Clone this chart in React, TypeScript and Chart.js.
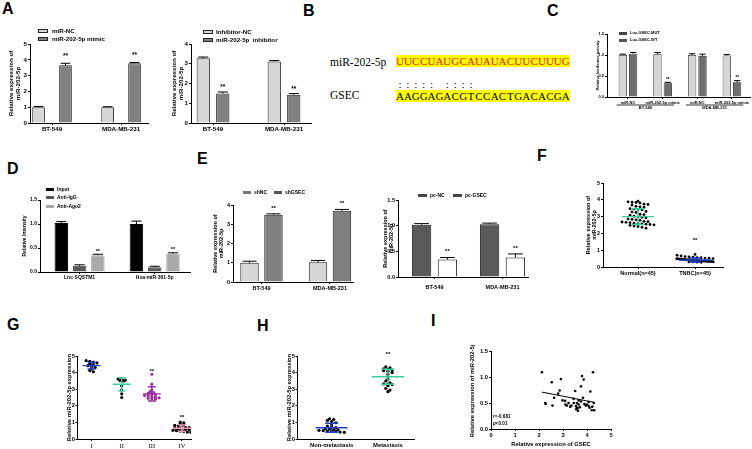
import React, { useEffect, useRef } from 'react';
import { Chart, registerables } from 'chart.js';

Chart.register(...registerables);

// ------------------------- DATA -------------------------
// Panel A
const aCellLines = ['BT-549', 'MDA-MB-231'];
const aMimicNC = [1.0, 1.0];
const aMimicNCErr = [0.05, 0.03];
const aMimic = [3.65, 3.78];
const aMimicErr = [0.13, 0.05];
const aInhibitorNC = [3.28, 3.12];
const aInhibitorNCErr = [0.06, 0.04];
const aInhibitor = [1.5, 1.43];
const aInhibitorErr = [0.07, 0.06];

// Panel B
const bMirLabel = 'miR-202-5p';
const bMirSeq = 'UUCCUAUGCAUAUACUUCUUUG';
const bGeneLabel = 'GSEC';
const bGeneSeq = 'AAGGAGACGTCCACTGACACGA';
const bPaired = [0, 1, 2, 3, 4, 6, 7, 8, 9];

// Panel C
const cGroups = ['miR-NC', 'miR-202-5p mimic', 'miR-NC', 'miR-202-5p mimic'];
const cCellLines = ['BT-549', 'MDA-MB-231'];
const cMut = [1.0, 1.02, 1.0, 0.99];
const cMutErr = [0.02, 0.04, 0.03, 0.02];
const cWt = [1.03, 0.33, 0.98, 0.35];
const cWtErr = [0.03, 0.02, 0.04, 0.04];

// Panel D
const dTargets = ['Lnc-SQSTM1', 'Hsa-miR-361-5p'];
const dInput = [1.02, 1.0];
const dInputErr = [0.03, 0.06];
const dIgG = [0.13, 0.1];
const dIgGErr = [0.02, 0.02];
const dAgo2 = [0.35, 0.38];
const dAgo2Err = [0.02, 0.02];

// Panel E
const eCellLines = ['BT-549', 'MDA-MB-231'];
const eShNC = [1.0, 1.02];
const eShNCErr = [0.08, 0.1];
const eShGSEC = [3.5, 3.7];
const eShGSECErr = [0.04, 0.07];
const ePcNC = [1.02, 1.03];
const ePcNCErr = [0.02, 0.02];
const ePcGSEC = [0.34, 0.38];
const ePcGSECErr = [0.04, 0.07];

// Panel F
const fGroups = ['Normal(n=45)', 'TNBC(n=45)'];
const fNormal = [3.92, 3.88, 3.86, 3.84, 3.81, 3.74, 3.72, 3.69, 3.61, 3.58, 3.55, 3.47, 3.45, 3.42, 3.4,
  3.31, 3.28, 3.25, 3.14, 3.12, 3.08, 3.02, 2.98, 2.96, 2.93, 2.86, 2.84, 2.81, 2.78, 2.72, 2.7, 2.68, 2.66,
  2.64, 2.61, 2.59, 2.57, 2.55, 2.53, 2.51, 2.48, 2.44, 2.41, 2.36, 2.31];
const fTNBC = [0.75, 0.7, 0.66, 0.62, 0.6, 0.58, 0.56, 0.55, 0.53, 0.52, 0.5, 0.49, 0.48, 0.47, 0.46, 0.46,
  0.45, 0.44, 0.44, 0.43, 0.42, 0.42, 0.41, 0.4, 0.4, 0.39, 0.39, 0.38, 0.38, 0.37, 0.37, 0.36, 0.36, 0.35,
  0.35, 0.34, 0.34, 0.33, 0.33, 0.32, 0.31, 0.3, 0.3, 0.29, 0.28];
const fMean = [3.0, 0.42];
const fSD = [0.47, 0.12];
const fStars = [null, 1.65];

// Panel G
const gStages = ['I', 'II', 'III', 'IV'];
const gStageI = [4.72, 4.68, 4.63, 4.58, 4.52, 4.47, 4.42, 4.36, 4.3, 4.22, 4.12, 4.05];
const gStageII = [3.62, 3.58, 3.55, 3.52, 3.5, 3.2, 2.95, 2.72, 2.5];
const gStageIII = [3.9, 3.3, 2.95, 2.85, 2.8, 2.75, 2.7, 2.68, 2.62, 2.6, 2.55, 2.52, 2.48, 2.45, 2.42, 2.4];
const gStageIV = [1.02, 0.98, 0.92, 0.88, 0.82, 0.78, 0.74, 0.7, 0.68, 0.65, 0.62, 0.6, 0.58, 0.55, 0.52,
  0.5, 0.48, 0.45, 0.42, 0.4];
const gMean = [4.42, 3.3, 2.72, 0.65];
const gSD = [0.2, 0.4, 0.43, 0.2];
const gStars = [null, null, 4.16, 1.39];

// Panel H
const hGroups = ['Non-metastasis', 'Metastasis'];
const hNonMet = [1.22, 1.18, 1.12, 1.05, 0.98, 0.85, 0.78, 0.72, 0.68, 0.62, 0.6, 0.57, 0.55, 0.52, 0.5,
  0.48, 0.47, 0.45, 0.42, 0.4];
const hMet = [4.35, 4.28, 4.22, 4.2, 4.15, 4.12, 4.08, 4.0, 3.9, 3.75, 3.6, 3.5, 3.38, 3.32, 3.3, 3.28,
  3.22, 3.05, 2.95, 2.85];
const hMean = [0.68, 3.75];
const hSD = [0.27, 0.45];
const hStars = [null, 5.18];

// Panel I
const iGSEC = [2.12, 2.26, 2.28, 2.53, 2.56, 2.63, 2.86, 2.91, 2.98, 3.09, 3.16, 3.23, 3.3, 3.44, 3.51, 3.54,
  3.58, 3.58, 3.62, 3.65, 3.65, 3.75, 3.75, 3.79, 3.83, 3.86, 3.89, 4.0, 4.07, 4.07, 4.11, 4.14, 4.2, 4.25,
  4.28, 4.3, 3.45, 3.55, 3.7, 3.95, 3.35, 2.8, 3.6, 4.22, 3.1];
const iMiR = [1.09, 0.5, 0.48, 0.9, 0.45, 0.6, 0.74, 0.96, 0.55, 0.54, 0.45, 0.5, 0.43, 0.58, 0.73, 0.44,
  0.5, 0.41, 0.35, 0.47, 0.55, 0.82, 0.53, 1.02, 0.6, 0.95, 0.48, 0.47, 0.52, 0.44, 0.41, 0.72, 0.36, 1.09,
  0.5, 0.36, 0.5, 0.38, 0.42, 0.45, 0.45, 0.68, 0.4, 0.43, 0.47];
const iFitX = [2.12, 4.33];
const iFitY = [0.71, 0.51];
const iStats = ['r=-0.681', 'p<0.01'];

// ------------------------- STYLE / HELPERS -------------------------
const FONT = "'Liberation Sans', Arial, sans-serif";
const SERIF = "'Liberation Serif', 'Times New Roman', serif";
const LIGHT = '#d6d6d6';
const MID = '#808080';
const GREEN = '#3ccf9e';
const BLUE = '#2342c8';
const PURPLE = '#9c2f9c';
const PINK = '#ff9ab8';

type Box = { x: number; y: number; w: number; h: number };
type Rect = { l: number; t: number; r: number; b: number };

function base(box: Box, plot: Rect) {
  return {
    responsive: false,
    maintainAspectRatio: false,
    animation: false,
    devicePixelRatio: 1,
    events: [],
    layout: { padding: { left: 0, bottom: 0, top: plot.t - box.y, right: box.x + box.w - plot.r } },
    plugins: { legend: { display: false }, tooltip: { enabled: false }, title: { display: false } },
  };
}

const axisLine = { display: true, color: '#000', width: 1 };
const tickGrid = { display: true, drawOnChartArea: false, drawTicks: true, tickLength: 2, color: '#000', lineWidth: 1, offset: false };

function yAxis(box: Box, plot: Rect, o: any) {
  return {
    type: 'linear',
    min: 0,
    max: o.max,
    afterFit: (s: any) => { s.width = plot.l - box.x; },
    ticks: {
      stepSize: o.step, color: '#000', padding: o.tickPad ?? 1,
      font: { family: FONT, size: o.font, weight: 'bold' },
      callback: (v: any) => Number(v).toFixed(o.dec),
    },
    grid: tickGrid,
    border: axisLine,
    title: {
      display: true, text: o.title, color: '#000', padding: 0,
      font: { family: FONT, size: o.titleFont ?? o.font, weight: 'bold', lineHeight: 1.15 },
    },
  };
}

function xCats(box: Box, plot: Rect, o: any) {
  return {
    type: 'linear',
    min: o.min,
    max: o.max,
    offset: false,
    afterFit: (s: any) => { s.height = box.y + box.h - plot.b; },
    afterBuildTicks: (s: any) => { s.ticks = o.cats.map((_: any, i: number) => ({ value: i + 1 })); },
    ticks: {
      autoSkip: false, maxRotation: 0, minRotation: 0, color: '#000', padding: o.pad ?? 1,
      font: { family: o.family ?? FONT, size: o.font, weight: o.weight ?? 'bold' },
      callback: (v: any) => o.cats[Math.round(Number(v)) - 1] ?? '',
    },
    grid: tickGrid,
    border: axisLine,
  };
}

function errorBars(starFont: number, starGap: number) {
  return {
    id: 'errorBars',
    afterDatasetsDraw(chart: any) {
      const ctx = chart.ctx;
      const y = chart.scales.y;
      chart.data.datasets.forEach((ds: any, i: number) => {
        if (!ds.err) return;
        const meta = chart.getDatasetMeta(i);
        meta.data.forEach((el: any, j: number) => {
          const v = ds.data[j].y;
          const top = y.getPixelForValue(v + ds.err[j]);
          const basePx = y.getPixelForValue(v);
          const half = el.width * 0.38;
          ctx.save();
          ctx.strokeStyle = '#000';
          ctx.lineWidth = 1;
          ctx.beginPath();
          ctx.moveTo(el.x, basePx);
          ctx.lineTo(el.x, top);
          ctx.moveTo(el.x - half, top);
          ctx.lineTo(el.x + half, top);
          ctx.stroke();
          if (ds.stars && ds.stars[j]) {
            ctx.fillStyle = '#000';
            ctx.font = `bold ${starFont}px ${FONT}`;
            ctx.textAlign = 'center';
            ctx.textBaseline = 'alphabetic';
            ctx.fillText(ds.stars[j], el.x, top - starGap);
          }
          ctx.restore();
        });
      });
    },
  };
}

function barConfig(o: any) {
  return {
    type: 'bar',
    data: {
      datasets: o.series.map((s: any) => ({
        label: s.label,
        data: s.values.map((v: number, i: number) => ({ x: i + 1, y: v })),
        err: s.errors,
        stars: s.stars,
        backgroundColor: s.fill,
        borderColor: s.stroke,
        borderWidth: s.bw ?? 1,
        categoryPercentage: o.catPct,
        barPercentage: o.barPct,
      })),
    },
    options: {
      ...base(o.box, o.plot),
      scales: {
        x: xCats(o.box, o.plot, { min: o.xMin, max: o.xMax, cats: o.cats, font: o.font, pad: o.labelPad }),
        y: yAxis(o.box, o.plot, { max: o.yMax, step: o.yStep, dec: o.yDec, title: o.yTitle, font: o.font }),
      },
    },
    plugins: [errorBars(o.starFont, o.starGap), ...(o.extra || [])],
  };
}

function swarm(values: number[], cx: number, bin: number, step: number, maxHalf: number) {
  const bins = new Map<number, number[]>();
  values.forEach((v) => {
    const k = Math.round(v / bin);
    if (!bins.has(k)) bins.set(k, []);
    bins.get(k)!.push(v);
  });
  const pts: { x: number; y: number }[] = [];
  bins.forEach((vals) => {
    const n = vals.length;
    const st = n > 1 ? Math.min(step, (2 * maxHalf) / (n - 1)) : 0;
    vals.forEach((v, i) => pts.push({ x: cx + (i - (n - 1) / 2) * st, y: v }));
  });
  return pts;
}

function meanSd(groups: any[], half: number, cap: number, lw: number) {
  return {
    id: 'meanSd',
    afterDatasetsDraw(chart: any) {
      const { ctx } = chart;
      const x = chart.scales.x;
      const y = chart.scales.y;
      ctx.save();
      groups.forEach((g) => {
        const px = x.getPixelForValue(g.x);
        const pm = y.getPixelForValue(g.mean);
        const pt = y.getPixelForValue(g.mean + g.sd);
        const pb = y.getPixelForValue(g.mean - g.sd);
        ctx.strokeStyle = g.color;
        ctx.lineWidth = lw;
        ctx.beginPath();
        ctx.moveTo(px - half, pm); ctx.lineTo(px + half, pm);
        ctx.moveTo(px, pt); ctx.lineTo(px, pb);
        ctx.moveTo(px - cap, pt); ctx.lineTo(px + cap, pt);
        ctx.moveTo(px - cap, pb); ctx.lineTo(px + cap, pb);
        ctx.stroke();
      });
      ctx.restore();
    },
  };
}

function starsAt(stars: (number | null)[], font: number) {
  return {
    id: 'starsAt',
    afterDraw(chart: any) {
      const { ctx } = chart;
      ctx.save();
      ctx.fillStyle = '#000';
      ctx.font = `bold ${font}px ${FONT}`;
      ctx.textAlign = 'center';
      ctx.textBaseline = 'middle';
      stars.forEach((s, i) => {
        if (s == null) return;
        ctx.fillText('**', chart.scales.x.getPixelForValue(i + 1), chart.scales.y.getPixelForValue(s) + font * 0.25);
      });
      ctx.restore();
    },
  };
}

function scatterConfig(o: any) {
  const datasets = o.groups.map((g: any, i: number) => ({
    data: swarm(g.values, i + 1, o.bin, o.step, o.maxHalf),
    backgroundColor: g.color,
    borderWidth: 0,
    pointRadius: o.radius,
  }));
  return {
    type: 'scatter',
    data: { datasets },
    options: {
      ...base(o.box, o.plot),
      scales: {
        x: xCats(o.box, o.plot, { min: o.xMin, max: o.xMax, cats: o.cats, font: o.catFont, family: o.catFamily, weight: o.catWeight }),
        y: yAxis(o.box, o.plot, { max: 5, step: 1, dec: 0, title: o.yTitle, font: o.font, tickPad: o.tickPad }),
      },
    },
    plugins: [
      meanSd(o.groups.map((g: any, i: number) => ({ x: i + 1, mean: o.mean[i], sd: o.sd[i], color: g.line })), o.half, o.cap, 1.4),
      starsAt(o.stars, o.starFont),
    ],
  };
}

function groupLabels(groups: { label: string; from: number; to: number }[], font: number) {
  return {
    id: 'groupLabels',
    afterDraw(chart: any) {
      const { ctx } = chart;
      const m0 = chart.getDatasetMeta(0);
      const m1 = chart.getDatasetMeta(chart.data.datasets.length - 1);
      const yLine = chart.chartArea.bottom + 8;
      ctx.save();
      ctx.strokeStyle = '#000';
      ctx.lineWidth = 0.8;
      ctx.fillStyle = '#000';
      ctx.font = `bold ${font}px ${FONT}`;
      ctx.textAlign = 'center';
      ctx.textBaseline = 'top';
      groups.forEach((g) => {
        const a = m0.data[g.from];
        const b = m1.data[g.to];
        const x0 = a.x - a.width / 2 - 2;
        const x1 = b.x + b.width / 2 + 2;
        ctx.beginPath();
        ctx.moveTo(x0, yLine); ctx.lineTo(x1, yLine);
        ctx.stroke();
        ctx.fillText(g.label, (x0 + x1) / 2, yLine + 1.2);
      });
      ctx.restore();
    },
  };
}

// ------------------------- CHART SPECS -------------------------
const charts: { box: Box; make: () => any }[] = [];

{
  const box = { x: 8, y: 36, w: 145, h: 98 };
  const plot = { l: 30, t: 44, r: 148, b: 123 };
  charts.push({ box, make: () => barConfig({
    box, plot, cats: aCellLines, xMin: 0.681, xMax: 2.39, catPct: 0.78, barPct: 0.47,
    series: [
      { label: 'miR-NC', values: aMimicNC, errors: aMimicNCErr, fill: LIGHT, stroke: '#222' },
      { label: 'miR-202-5p mimic', values: aMimic, errors: aMimicErr, fill: MID, stroke: '#222', stars: ['**', '**'] },
    ],
    yMax: 5, yStep: 1, yDec: 0, yTitle: ['Relative expression of', 'miR-202-5p'], font: 6.2, starFont: 6.5, starGap: 5,
  }) });
}
{
  const box = { x: 171, y: 36, w: 146, h: 98 };
  const plot = { l: 191, t: 44, r: 311, b: 123 };
  charts.push({ box, make: () => barConfig({
    box, plot, cats: aCellLines, xMin: 0.69, xMax: 2.38, catPct: 0.55, barPct: 0.68,
    series: [
      { label: 'Inhibitor-NC', values: aInhibitorNC, errors: aInhibitorNCErr, fill: LIGHT, stroke: '#222' },
      { label: 'miR-202-5p inhibitor', values: aInhibitor, errors: aInhibitorErr, fill: MID, stroke: '#222', stars: ['**', '**'] },
    ],
    yMax: 4, yStep: 1, yDec: 0, yTitle: ['Relative expression of', 'miR-202-5p'], font: 6.2, starFont: 6.5, starGap: 3,
  }) });
}
{
  const box = { x: 596, y: 28, w: 156, h: 84 };
  const plot = { l: 607, t: 34, r: 750, b: 97 };
  charts.push({ box, make: () => barConfig({
    box, plot, cats: cGroups, xMin: 0.395, xMax: 4.52, catPct: 0.6, barPct: 0.8,
    series: [
      { label: 'Luc-GSEC-MUT', values: cMut, errors: cMutErr, fill: LIGHT, stroke: '#222', bw: 0.8 },
      { label: 'Luc-GSEC-WT', values: cWt, errors: cWtErr, fill: '#6e6e6e', stroke: '#222', bw: 0.8, stars: [null, '**', null, '**'] },
    ],
    yMax: 1.5, yStep: 0.5, yDec: 1, yTitle: 'Relative luciferase activity', font: 4, starFont: 4.5, starGap: 1.5,
    extra: [groupLabels([{ label: cCellLines[0], from: 0, to: 1 }, { label: cCellLines[1], from: 2, to: 3 }], 4)],
  }) });
}
{
  const box = { x: 22, y: 194, w: 172, h: 90 };
  const plot = { l: 40, t: 200, r: 190, b: 272 };
  charts.push({ box, make: () => barConfig({
    box, plot, cats: dTargets, xMin: 0.473, xMax: 2.47, catPct: 0.73, barPct: 0.74,
    series: [
      { label: 'Input', values: dInput, errors: dInputErr, fill: '#000', stroke: '#000' },
      { label: 'Anti-IgG', values: dIgG, errors: dIgGErr, fill: '#595959', stroke: '#444' },
      { label: 'Anti-Ago2', values: dAgo2, errors: dAgo2Err, fill: '#a9a9a9', stroke: '#a9a9a9', stars: ['**', '**'] },
    ],
    yMax: 1.5, yStep: 0.5, yDec: 1, yTitle: 'Relative Intensity', font: 5, starFont: 5.5, starGap: 1.5,
  }) });
}
{
  const box = { x: 212, y: 198, w: 146, h: 97 };
  const plot = { l: 233, t: 205, r: 353, b: 282 };
  charts.push({ box, make: () => barConfig({
    box, plot, cats: eCellLines, xMin: 0.584, xMax: 2.336, catPct: 0.7, barPct: 0.77,
    series: [
      { label: 'shNC', values: eShNC, errors: eShNCErr, fill: LIGHT, stroke: '#222' },
      { label: 'shGSEC', values: eShGSEC, errors: eShGSECErr, fill: MID, stroke: '#222', stars: ['**', '**'] },
    ],
    yMax: 4, yStep: 1, yDec: 0, yTitle: ['Relative expression of', 'miR-202-5p'], font: 5.5, starFont: 6, starGap: 4,
  }) });
}
{
  const box = { x: 382, y: 193, w: 150, h: 102 };
  const plot = { l: 398, t: 200, r: 528, b: 277 };
  charts.push({ box, make: () => barConfig({
    box, plot, cats: eCellLines, xMin: 0.463, xMax: 2.375, catPct: 0.76, barPct: 0.75, labelPad: 5,
    series: [
      { label: 'pc-NC', values: ePcNC, errors: ePcNCErr, fill: '#595959', stroke: '#222' },
      { label: 'pc-GSEC', values: ePcGSEC, errors: ePcGSECErr, fill: '#ffffff', stroke: '#111', stars: ['**', '**'] },
    ],
    yMax: 1.5, yStep: 0.5, yDec: 1, yTitle: ['Relative expression of', 'miR-202-5p'], font: 5.5, starFont: 6, starGap: 4,
  }) });
}
{
  const box = { x: 585, y: 177, w: 142, h: 104 };
  const plot = { l: 603, t: 183, r: 723, b: 267 };
  charts.push({ box, make: () => scatterConfig({
    box, plot, cats: fGroups, xMin: 0.386, xMax: 2.49,
    groups: [
      { values: fNormal, color: '#000', line: GREEN },
      { values: fTNBC, color: '#000', line: BLUE },
    ],
    mean: fMean, sd: fSD, stars: fStars, bin: 0.2, step: 0.07, maxHalf: 0.32, radius: 1.4,
    half: 16, cap: 6, yTitle: ['Relative expression of', 'miR-202-5p'], font: 5.5, catFont: 5.5, starFont: 6,
  }) });
}
{
  const box = { x: 65.5, y: 350, w: 128.5, h: 99 };
  const plot = { l: 77, t: 356, r: 190, b: 439 };
  charts.push({ box, make: () => scatterConfig({
    box, plot, cats: gStages, xMin: 0.533, xMax: 4.3,
    groups: [
      { values: gStageI, color: '#000', line: BLUE },
      { values: gStageII, color: '#000', line: GREEN },
      { values: gStageIII, color: PURPLE, line: PURPLE },
      { values: gStageIV, color: '#000', line: PINK },
    ],
    mean: gMean, sd: gSD, stars: gStars, bin: 0.15, step: 0.12, maxHalf: 0.33, radius: 1.6, tickPad: 0.5,
    half: 9, cap: 4, yTitle: 'Relative miR-202-5p expression', font: 5.8, catFont: 6.5, catFamily: SERIF, catWeight: 'normal', starFont: 6,
  }) });
}
{
  const box = { x: 285.5, y: 350, w: 131.5, h: 99 };
  const plot = { l: 297, t: 356, r: 413, b: 439 };
  charts.push({ box, make: () => scatterConfig({
    box, plot, cats: hGroups, xMin: 0.393, xMax: 2.464,
    groups: [
      { values: hNonMet, color: '#000', line: BLUE },
      { values: hMet, color: '#000', line: GREEN },
    ],
    mean: hMean, sd: hSD, stars: hStars, bin: 0.15, step: 0.075, maxHalf: 0.29, radius: 1.6, tickPad: 0.5,
    half: 16, cap: 6.5, yTitle: 'Relative miR-202-5p expression', font: 5.8, catFont: 5.8, starFont: 6,
  }) });
}
{
  const box = { x: 469, y: 345, w: 147, h: 103 };
  const plot = { l: 491, t: 351, r: 611, b: 429 };
  charts.push({ box, make: () => ({
    type: 'scatter',
    data: {
      datasets: [
        { data: iGSEC.map((x, i) => ({ x, y: iMiR[i] })), backgroundColor: '#000', borderWidth: 0, pointRadius: 1.3 },
        { data: iFitX.map((x, i) => ({ x, y: iFitY[i] })), showLine: true, borderColor: '#000', borderWidth: 1, pointRadius: 0 },
      ],
    },
    options: {
      ...base(box, plot),
      scales: {
        x: {
          type: 'linear', min: 0, max: 5,
          afterFit: (s: any) => { s.height = box.y + box.h - plot.b; },
          ticks: { stepSize: 1, color: '#000', padding: 1, font: { family: FONT, size: 5.8, weight: 'bold' } },
          grid: tickGrid, border: axisLine,
          title: { display: true, text: 'Relative expression of GSEC', color: '#000', padding: 0, font: { family: FONT, size: 5.8, weight: 'bold', lineHeight: 1.15 } },
        },
        y: yAxis(box, plot, { max: 1.5, step: 0.5, dec: 1, title: 'Relative expression of miR-202-5p', font: 5.8 }),
      },
    },
  }) });
}

// ------------------------- COMPONENTS -------------------------
function ChartBox({ box, make }: { box: Box; make: () => any }) {
  const ref = useRef<HTMLCanvasElement>(null);
  useEffect(() => {
    const chart = new Chart(ref.current as HTMLCanvasElement, make());
    return () => chart.destroy();
  }, []);
  return (
    <canvas
      ref={ref}
      width={Math.round(box.w)}
      height={box.h}
      style={{ position: 'absolute', left: box.x, top: box.y, width: Math.round(box.w), height: box.h }}
    />
  );
}

type Leg = { x: number; y: number; w: number; h: number; fill: string; stroke?: string; text: string; size: number; gap: number };

const legends: Leg[] = [
  { x: 38, y: 31, w: 10, h: 4, fill: LIGHT, stroke: '#222', text: 'miR-NC', size: 6.2, gap: 4 },
  { x: 38, y: 39, w: 10, h: 4, fill: MID, stroke: '#222', text: 'miR-202-5p mimic', size: 6.2, gap: 4 },
  { x: 203, y: 32, w: 10, h: 4, fill: LIGHT, stroke: '#222', text: 'Inhibitor-NC', size: 6.2, gap: 3 },
  { x: 203, y: 40, w: 10, h: 4, fill: MID, stroke: '#222', text: 'miR-202-5p  inhibitor', size: 6.2, gap: 3 },
  { x: 619, y: 33, w: 8, h: 3, fill: '#444', text: 'Luc-GSEC-MUT', size: 4, gap: 3 },
  { x: 619, y: 40, w: 8, h: 3, fill: '#555', text: 'Luc-GSEC-WT', size: 4, gap: 3 },
  { x: 46, y: 189, w: 8, h: 3, fill: '#000', text: 'Input', size: 5, gap: 3 },
  { x: 46, y: 197, w: 8, h: 3, fill: '#595959', text: 'Anti-IgG', size: 5, gap: 3 },
  { x: 46, y: 206, w: 8, h: 3, fill: '#a9a9a9', text: 'Anti-Ago2', size: 5, gap: 3 },
  { x: 243, y: 192, w: 8, h: 3, fill: '#777', text: 'shNC', size: 5, gap: 3 },
  { x: 274, y: 192, w: 8, h: 3, fill: '#555', text: 'shGSEC', size: 5, gap: 3 },
  { x: 418, y: 195, w: 9, h: 3, fill: '#444', text: 'pc-NC', size: 5, gap: 3 },
  { x: 453, y: 195, w: 9, h: 3, fill: '#444', text: 'pc-GSEC', size: 5, gap: 3 },
];

const letters: [string, number, number][] = [
  ['A', 2, 3], ['B', 303, 5], ['C', 547, 5], ['D', 7, 163], ['E', 197, 153],
  ['F', 537, 150], ['G', 7, 319], ['H', 257, 320], ['I', 431, 315],
];

const CH = 7.9;

function SeqRow({ seq, x, y, color, bg }: { seq: string; x: number; y: number; color: string; bg?: string }) {
  return (
    <div style={{ position: 'absolute', left: x, top: y, height: 12, width: seq.length * CH, background: bg, whiteSpace: 'nowrap', fontFamily: SERIF, fontSize: 11, lineHeight: '12px', color }}>
      {seq.split('').map((c, i) => (
        <span key={i} style={{ display: 'inline-block', width: CH, textAlign: 'center' }}>{c}</span>
      ))}
    </div>
  );
}

function PanelB() {
  const pairRow = bMirSeq.split('').map((_, i) => (bPaired.includes(i) ? ':' : '\u00a0')).join('');
  return (
    <>
      <div style={{ position: 'absolute', left: 330, top: 55.5, fontFamily: SERIF, fontSize: 11.5, lineHeight: '12px', whiteSpace: 'nowrap' }}>{bMirLabel}</div>
      <SeqRow seq={bMirSeq} x={396} y={55} color="#f01010" bg="#ffff00" />
      <SeqRow seq={pairRow} x={396} y={77.5} color="#000" />
      <div style={{ position: 'absolute', left: 330, top: 89, fontFamily: SERIF, fontSize: 11.5, lineHeight: '12px', whiteSpace: 'nowrap' }}>{bGeneLabel}</div>
      <SeqRow seq={bGeneSeq} x={396} y={89.5} color="#000" bg="#ffff00" />
    </>
  );
}

export default function App() {
  return (
    <div style={{ position: 'absolute', left: 0, top: 0, width: 752, height: 449, background: '#fff', overflow: 'hidden', fontFamily: FONT, color: '#000' }}>
      {letters.map(([t, x, y]) => (
        <div key={t} style={{ position: 'absolute', left: x, top: y - 2.1, fontSize: 16, lineHeight: '16px', fontWeight: 'bold', fontFamily: FONT }}>{t}</div>
      ))}
      <PanelB />
      {charts.map((c, i) => <ChartBox key={i} box={c.box} make={c.make} />)}
      {legends.map((l, i) => (
        <React.Fragment key={i}>
          <div style={{ position: 'absolute', left: l.x, top: l.y - l.h / 2, width: l.w, height: l.h, background: l.fill, boxSizing: 'border-box', border: l.stroke ? `1px solid ${l.stroke}` : 'none' }} />
          <div style={{ position: 'absolute', left: l.x + l.w + l.gap, top: l.y - l.size * 0.6, fontSize: l.size, lineHeight: `${l.size * 1.2}px`, fontWeight: 'bold', whiteSpace: 'pre' }}>{l.text}</div>
        </React.Fragment>
      ))}
      <div style={{ position: 'absolute', left: 493, top: 414, fontSize: 4.6, lineHeight: '6.5px', fontWeight: 'bold', whiteSpace: 'nowrap' }}>
        <div>{iStats[0]}</div>
        <div><i>p</i>{iStats[1].slice(1)}</div>
      </div>
    </div>
  );
}
